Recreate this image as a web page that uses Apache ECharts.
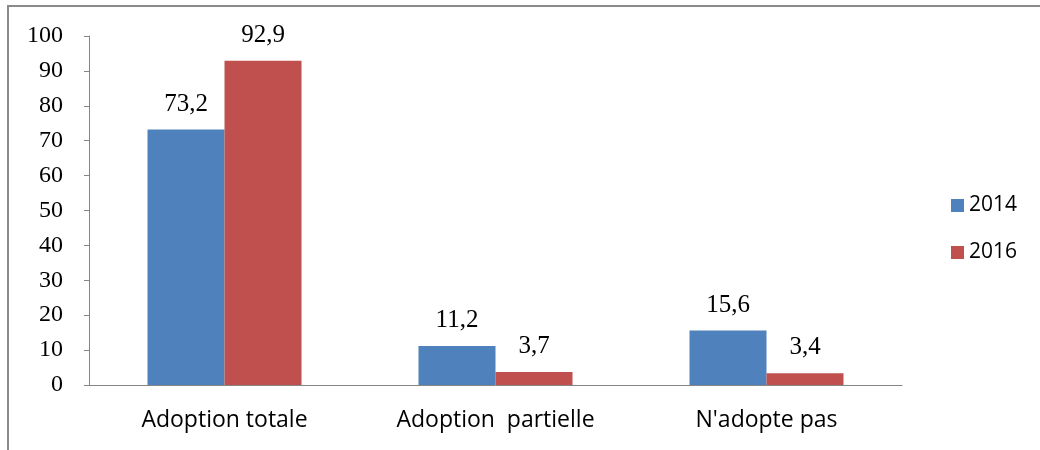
<!DOCTYPE html>
<html>
<head>
<meta charset="utf-8">
<script src="https://cdn.jsdelivr.net/npm/echarts@6/dist/echarts.min.js"></script>
<style>
  html, body { margin: 0; padding: 0; background: #fff; }
  #chart { width: 1040px; height: 450px; }
</style>
</head>
<body>
<div id="chart"></div>
<script>
// adoption rates per category, two survey years
const categories = ['Adoption totale', 'Adoption  partielle', "N'adopte pas"]
const years = ['2014', '2016']
const values2014 = [73.2, 11.2, 15.6]
const values2016 = [92.9, 3.7, 3.4]
const yTicks = { min: 0, max: 100, step: 10 }

const AXIS_GRAY = '#868686'
const COLORS = ['#4F81BD', '#C0504D']

const chart = echarts.init(document.getElementById('chart'))

// comma decimals, like the source
const fmt = p => String(p.value).replace('.', ',')

const barSeries = (name, data, color) => ({
  name,
  type: 'bar',
  data,
  barWidth: 77,
  barGap: 0,
  itemStyle: { color },
  label: {
    show: true,
    position: 'top',
    distance: 13,
    formatter: fmt,
    fontFamily: 'Liberation Serif',
    fontSize: 25,
    color: '#000'
  }
})

chart.setOption({
  animation: false,
  grid: { left: 89, top: 36, right: 138, bottom: 65 },

  // outer frame (only top and left edges are visible in the source)
  graphic: [{
    type: 'polyline',
    shape: { points: [[8, 450], [8, 6], [1040, 6]] },
    style: { stroke: '#8a8a8a', lineWidth: 2, fill: null }
  }],

  legend: {
    orient: 'vertical',
    left: 946,
    top: 190,
    itemWidth: 13,
    itemHeight: 13,
    itemGap: 26,
    icon: 'rect',
    textStyle: { fontFamily: 'Open Sans', fontSize: 21, color: '#000' },
    data: years
  },

  xAxis: {
    type: 'category',
    data: categories,
    axisLine: { lineStyle: { color: AXIS_GRAY } },
    axisTick: { length: 7, lineStyle: { color: AXIS_GRAY } },
    axisLabel: {
      margin: 24,
      fontFamily: 'Open Sans',
      fontSize: 23,
      color: '#000'
    }
  },

  yAxis: {
    type: 'value',
    min: yTicks.min,
    max: yTicks.max,
    interval: yTicks.step,
    splitLine: { show: false },
    axisLine: { show: true, lineStyle: { color: AXIS_GRAY } },
    axisTick: { show: true, length: 5, lineStyle: { color: AXIS_GRAY } },
    axisLabel: {
      margin: 26,
      fontFamily: 'Liberation Serif',
      fontSize: 24,
      color: '#000'
    }
  },

  series: [
    barSeries(years[0], values2014, COLORS[0]),
    barSeries(years[1], values2016, COLORS[1])
  ]
})
</script>
</body>
</html>
